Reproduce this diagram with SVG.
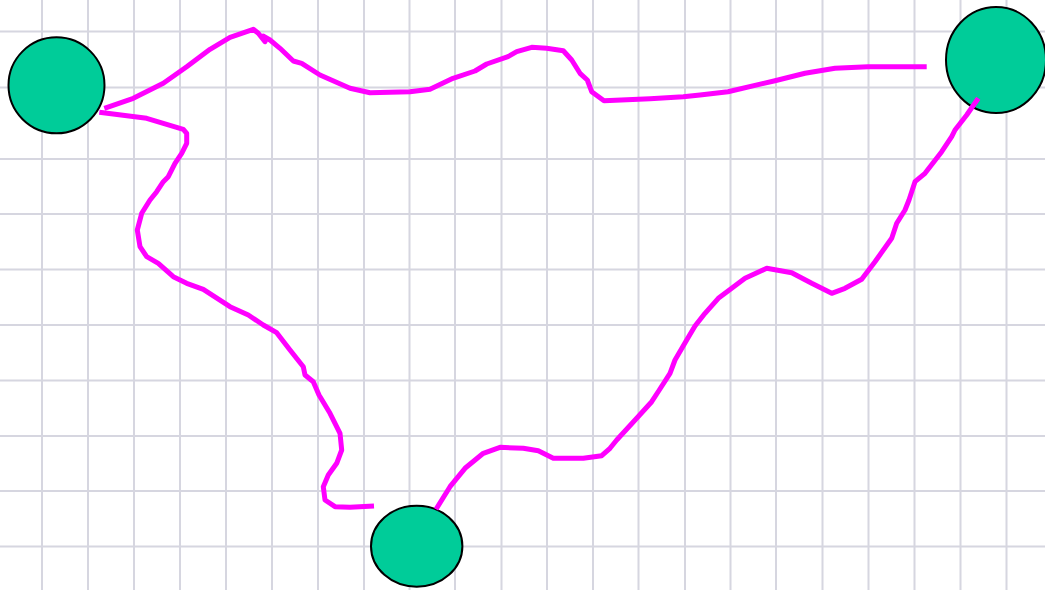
<svg xmlns="http://www.w3.org/2000/svg" width="1045" height="590" viewBox="0 0 1045 590">
<style>
.grid line{stroke:#d6d6e0;stroke-width:2}
.node{fill:#00cc99;stroke:#000;stroke-width:2}
.edge{fill:none;stroke:#ff00ff;stroke-width:5;stroke-linejoin:round;stroke-linecap:butt}
</style>
<rect width="1045" height="590" fill="#ffffff"/>
<g class="grid" id="grid">
<line x1="42" y1="0" x2="42" y2="590"/>
<line x1="88" y1="0" x2="88" y2="590"/>
<line x1="134" y1="0" x2="134" y2="590"/>
<line x1="180" y1="0" x2="180" y2="590"/>
<line x1="226" y1="0" x2="226" y2="590"/>
<line x1="272" y1="0" x2="272" y2="590"/>
<line x1="318" y1="0" x2="318" y2="590"/>
<line x1="364" y1="0" x2="364" y2="590"/>
<line x1="409.5" y1="0" x2="409.5" y2="590"/>
<line x1="455" y1="0" x2="455" y2="590"/>
<line x1="501.5" y1="0" x2="501.5" y2="590"/>
<line x1="547" y1="0" x2="547" y2="590"/>
<line x1="593" y1="0" x2="593" y2="590"/>
<line x1="638.5" y1="0" x2="638.5" y2="590"/>
<line x1="685" y1="0" x2="685" y2="590"/>
<line x1="730.5" y1="0" x2="730.5" y2="590"/>
<line x1="776" y1="0" x2="776" y2="590"/>
<line x1="822.5" y1="0" x2="822.5" y2="590"/>
<line x1="868.5" y1="0" x2="868.5" y2="590"/>
<line x1="914.5" y1="0" x2="914.5" y2="590"/>
<line x1="960.5" y1="0" x2="960.5" y2="590"/>
<line x1="1006.5" y1="0" x2="1006.5" y2="590"/>
<line x1="0" y1="31.5" x2="1045" y2="31.5"/>
<line x1="0" y1="87.5" x2="1045" y2="87.5"/>
<line x1="0" y1="159" x2="1045" y2="159"/>
<line x1="0" y1="214" x2="1045" y2="214"/>
<line x1="0" y1="269.5" x2="1045" y2="269.5"/>
<line x1="0" y1="325" x2="1045" y2="325"/>
<line x1="0" y1="380.5" x2="1045" y2="380.5"/>
<line x1="0" y1="436" x2="1045" y2="436"/>
<line x1="0" y1="491" x2="1045" y2="491"/>
<line x1="0" y1="546.5" x2="1045" y2="546.5"/>
</g>
<g id="nodes">
<g id="node-left"><ellipse class="node" cx="56.5" cy="85.3" rx="48" ry="48"/></g>
<g id="node-right"><ellipse class="node" cx="996" cy="60" rx="50" ry="53"/></g>
<g id="node-bottom"><ellipse class="node" cx="416.7" cy="546.2" rx="45.7" ry="40.5"/></g>
</g>
<g id="connectors">
<polyline id="edge-left-right" class="edge" points="104.3,108.3 133.3,98.3 163.3,83.3 186.7,66.7 210,49.3 230,37.3 253.3,29.3 258.3,33.3 265,41.7 263,36 270,40 280,48.3 293.3,61 301.7,63.3 320,75 350,88.3 370,92.7 410,91.7 430,89.3 453,78.3 475,71 486.7,64 508,56.7 516.7,51.7 531.7,47.3 546.7,48.3 563.3,50.7 571.7,60 580,73.3 587.3,80 591.7,91.7 604,100.7 650,98.7 683.3,96.7 700,95 728,91.7 775,80.7 805,73.3 835,68.3 868,66.7 926.7,66.7"/>
<polyline id="edge-left-bottom" class="edge" points="99.3,112.3 146.7,118.3 163.3,123.3 183.3,129.3 186.7,133.3 186.7,143.3 181.7,153.3 175,163.3 168.3,176.7 163.3,181.7 156.7,191.7 150,200 141.7,213.3 137.3,230 140,246.7 146.7,256.7 158.3,263.3 173.3,276.7 186.7,283.3 203.3,289.3 230,306.7 248.3,315 263.3,325 276.7,332.7 290,350 303.3,366.7 305,375 313.3,381.7 319,395 330,413.3 340,433.3 341.7,450 336.7,463.3 328.3,475 323.3,486.7 325,500 335,506.7 350,507.3 374,506"/>
<polyline id="edge-bottom-right" class="edge" points="436,509.3 450,486.7 465,468.3 483.3,453.3 500,447.3 523.3,448.3 538.3,450.7 553.3,458.3 583.3,458.3 601.7,455.7 610,448.3 616.7,440 636.7,418.3 651.7,401.7 659.3,390 670,373.3 675,360 686.7,340 695,326 705,313.3 718.3,298.3 731.7,288.3 745,278.3 766.7,268.3 791.7,272.7 811.7,283.3 831.7,293.3 845,288.3 861.7,279.3 875,261.7 891.7,238.3 896.7,223.3 905,210 909,200 915,181.7 925,173.3 941.7,151.7 951.7,136.7 955,130 966.7,115 978.3,98.3"/>
</g>
</svg>
